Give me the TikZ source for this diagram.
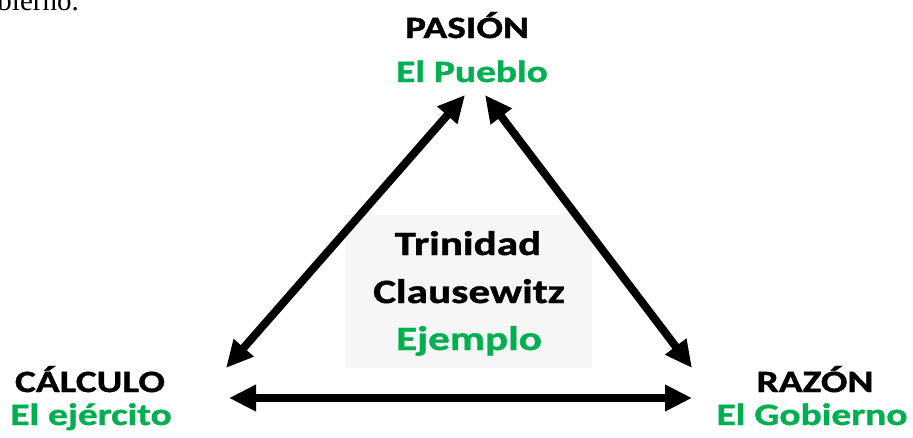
\documentclass[tikz,border=0pt]{standalone}
\usepackage{fontspec}
\setmainfont{Carlito}[BoldFeatures={FakeStretch=1.27,FakeBold=1.2}]
\newfontfamily\serifcut{Liberation Serif}
\usetikzlibrary{arrows.meta}
\definecolor{lblgreen}{HTML}{00B050}
\definecolor{boxgray}{HTML}{F6F6F6}
\tikzset{
  lbl/.style={anchor=base,inner sep=0pt,font=\bfseries\fontsize{31}{37}\selectfont},
  glbl/.style={lbl,text=lblgreen},
  ctr/.style={anchor=base,inner sep=0pt,font=\bfseries\fontsize{34}{41}\selectfont},
  gctr/.style={ctr,text=lblgreen},
  conn/.style={line width=8pt,{Triangle[length=27pt,width=25pt]}-{Triangle[length=27pt,width=25pt]}}
}
\begin{document}
\begin{tikzpicture}[x=1pt,y=-1pt]
\useasboundingbox (0,0) rectangle (913,437);
% clipped fragment of text at top-left
\node[anchor=base east,inner sep=0pt,font=\serifcut\fontsize{29}{33}\selectfont] (frag) at (79,10) {Gobierno.};
% centre box
\node[fill=boxgray,minimum width=247pt,minimum height=153pt,inner sep=0pt] (box) at (468.5,291.5) {};
\node[ctr] (t1) at (468,255) {Trinidad};
\node[ctr] (t2) at (469,303) {Clausewitz};
\node[gctr] (t3) at (469,350) {Ejemplo};
% corner labels
\node[lbl] (pasion) at (467,38) {PASIÓN};
\node[glbl] (pueblo) at (472,82) {El Pueblo};
\node[lbl] (calculo) at (90,392) {CÁLCULO};
\node[glbl] (ejercito) at (91,425) {El ejército};
\node[lbl] (razon) at (815,392) {RAZÓN};
\node[glbl] (gobierno) at (812,425) {El Gobierno};
% arrow end points
\coordinate (topL) at (465,95);
\coordinate (topR) at (485,95);
\coordinate (botL) at (226,368);
\coordinate (botR) at (692,368);
\coordinate (horL) at (229,398);
\coordinate (horR) at (692,398);
\draw[conn] (botL) -- (topL);
\draw[conn] (topR) -- (botR);
\draw[conn] (horL) -- (horR);
\end{tikzpicture}
\end{document}
